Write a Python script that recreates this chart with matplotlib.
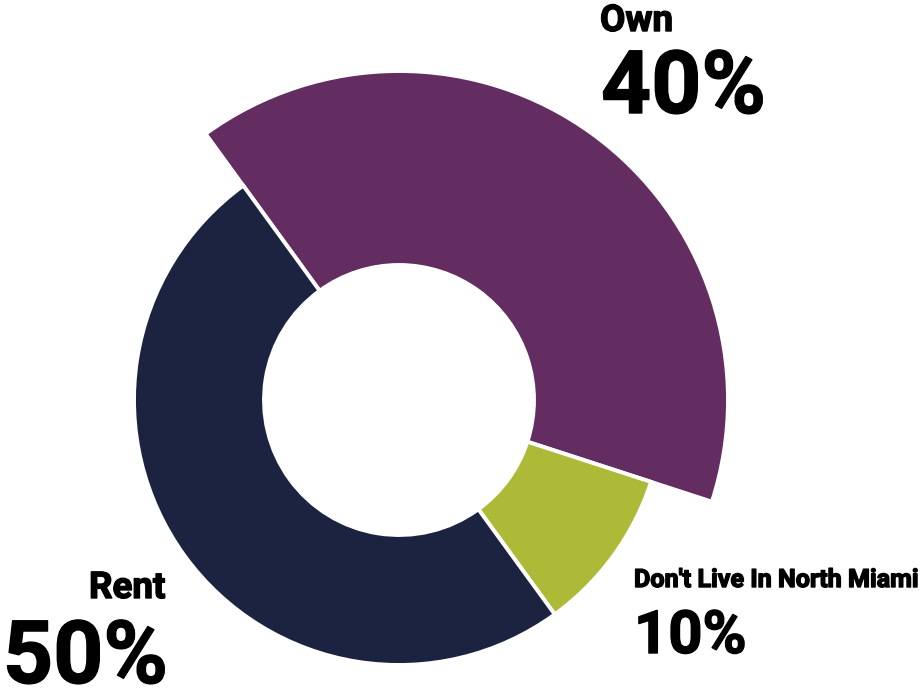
import matplotlib
matplotlib.use("Agg")
import matplotlib.pyplot as plt
import matplotlib.patheffects as pe

categories = ["Own", "Don't Live In North Miami", "Rent"]
values = [40, 10, 50]
colors = ["#632D62", "#ADBA38", "#1C2340"]
pct_labels = ["40%", "10%", "50%"]

fig = plt.figure(figsize=(9.22, 6.88), dpi=100)
ax = fig.add_axes([0, 0, 1, 1])
ax.set_aspect("equal")

center = (399, 288)
r_out = 265
r_in = 135
r_own = 329

wedges, _ = ax.pie(values, colors=colors, startangle=126, counterclock=False,
                   center=center, radius=r_out, frame=True,
                   wedgeprops=dict(width=r_out - r_in, edgecolor="white", linewidth=2.8))
# the "Own" wedge extends further out
wedges[0].set_radius(r_own)
wedges[0].set_width(r_own - r_in)
ax.set_xlim(0, 922)
ax.set_ylim(0, 688)
ax.axis("off")

heavy = [pe.withStroke(linewidth=1.0, foreground="black")]
font = dict(family=["Roboto", "DejaVu Sans"], weight="bold", color="black",
            va="baseline", ha="left", path_effects=heavy)
# Own
ax.text(600, 657, categories[0], fontsize=26.5, **font)
ax.text(601, 575, pct_labels[0], fontsize=63, **font)
# Don't live
ax.text(634, 101, categories[1], fontsize=18.1, **font)
ax.text(634, 35, pct_labels[1], fontsize=43, **font)
# Rent
ax.text(89, 90, categories[2], fontsize=26.5, **font)
ax.text(3, 5, pct_labels[2], fontsize=63, **font)

fig.savefig("out.png", dpi=100, facecolor="white")
